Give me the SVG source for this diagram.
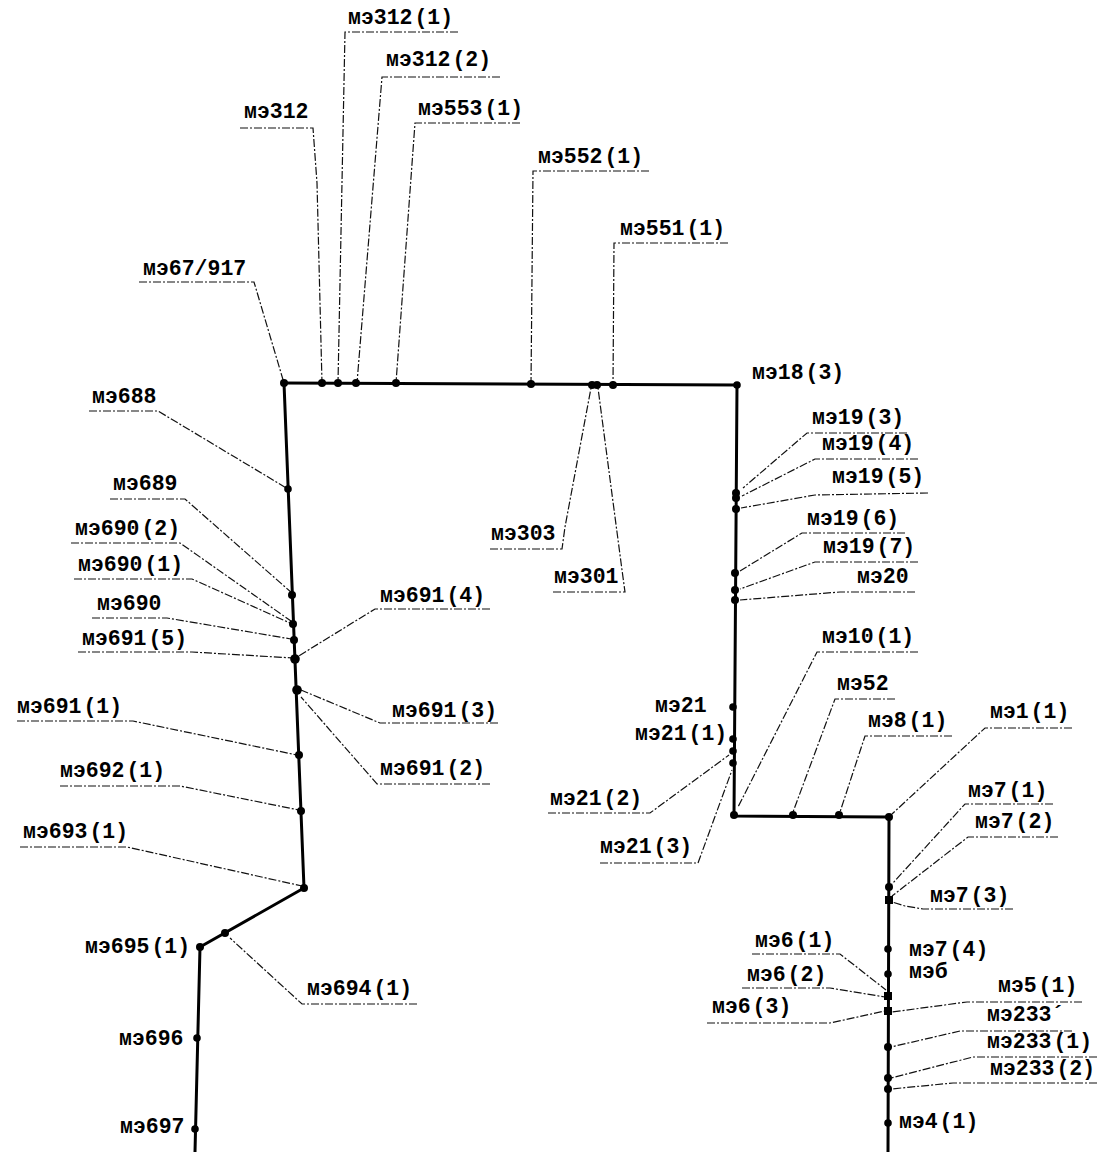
<svg xmlns="http://www.w3.org/2000/svg" width="1097" height="1152" viewBox="0 0 1097 1152">
<style>
text{font-family:"Liberation Mono","DejaVu Sans Mono",monospace;font-weight:bold;font-size:21.5px;fill:#000;word-spacing:-11px}
.main{fill:none;stroke:#000;stroke-width:3;stroke-linejoin:round}
.lead{fill:none;stroke:#111;stroke-width:1.2;stroke-dasharray:8 2 2 2}
.d{fill:#000}
</style>
<rect width="1097" height="1152" fill="#fff"/>
<g id="connectors">
<polyline class="main" points="284,383 737,385 734,816 889,817 888,1152"/>
<polyline class="main" points="284,383 304,888 200,947 195,1152"/>
<polyline class="lead" points="139,282 254,282 284,383"/>
<polyline class="lead" points="240,128 313,128 317,183 322,383"/>
<polyline class="lead" points="458,32 345,32 338,383"/>
<polyline class="lead" points="500,77 382,77 357,383"/>
<polyline class="lead" points="520,123 415,123 396,383"/>
<polyline class="lead" points="649,171 533,171 531,384"/>
<polyline class="lead" points="490,549 562,549 565,527 591,388"/>
<polyline class="lead" points="553,592 625,592 622,570 598,388"/>
<polyline class="lead" points="728,243 614,243 613,385"/>
<polyline class="lead" points="907,433 807,433 743,488"/>
<polyline class="lead" points="918,459 815,459 742,496"/>
<polyline class="lead" points="928,493 815,495 741,508"/>
<polyline class="lead" points="905,533 802,533 740,571"/>
<polyline class="lead" points="918,562 815,562 740,589"/>
<polyline class="lead" points="915,592 840,592 790,596 740,600"/>
<polyline class="lead" points="548,813 650,813 729,755"/>
<polyline class="lead" points="600,863 698,863 732,770"/>
<polyline class="lead" points="918,652 817,652 738,807"/>
<polyline class="lead" points="895,699 835,699 793,812"/>
<polyline class="lead" points="952,736 865,736 840,812"/>
<polyline class="lead" points="1072,728 985,728 892,814"/>
<polyline class="lead" points="1053,804 965,804 892,884"/>
<polyline class="lead" points="1058,837 968,837 892,896"/>
<polyline class="lead" points="1013,909 923,909 905,906 892,902"/>
<polyline class="lead" points="752,954 840,954 886,990"/>
<polyline class="lead" points="742,988 830,988 885,997"/>
<polyline class="lead" points="707,1023 830,1023 885,1011"/>
<polyline class="lead" points="1082,1002 967,1002 892,1012"/>
<polyline class="lead" points="1072,1031 960,1031 891,1047"/>
<polyline class="lead" points="1097,1057 973,1057 891,1078"/>
<polyline class="lead" points="1097,1083 953,1083 891,1089"/>
<polyline class="lead" points="89,411 158,411 288,489"/>
<polyline class="lead" points="110,499 185,499 292,593"/>
<polyline class="lead" points="71,543 180,543 291,621"/>
<polyline class="lead" points="74,579 192,579 290,623"/>
<polyline class="lead" points="92,618 167,618 291,639"/>
<polyline class="lead" points="78,652 192,652 293,658"/>
<polyline class="lead" points="490,609 375,609 297,657"/>
<polyline class="lead" points="498,723 380,723 301,690"/>
<polyline class="lead" points="490,784 377,784 301,697"/>
<polyline class="lead" points="17,721 133,721 297,755"/>
<polyline class="lead" points="60,786 180,786 299,810"/>
<polyline class="lead" points="20,847 127,847 302,886"/>
<polyline class="lead" points="417,1004 302,1004 230,938"/>
</g>
<g id="n67_917"><circle class="d" cx="284" cy="383" r="4"/><text x="143" y="275">мэ67/917</text></g>
<g id="n312"><circle class="d" cx="322" cy="383" r="4"/><text x="244" y="118">мэ312</text></g>
<g id="n312_1"><circle class="d" cx="338" cy="383" r="4"/><text x="348" y="24">мэ312 (1)</text></g>
<g id="n312_2"><circle class="d" cx="356" cy="383" r="4"/><text x="386" y="66">мэ312 (2)</text></g>
<g id="n553_1"><circle class="d" cx="396" cy="383" r="4"/><text x="418" y="115">мэ553 (1)</text></g>
<g id="n552_1"><circle class="d" cx="531" cy="384" r="4"/><text x="538" y="163">мэ552 (1)</text></g>
<g id="n303"><circle class="d" cx="592" cy="385" r="4"/><text x="491" y="540">мэ303</text></g>
<g id="n301"><circle class="d" cx="597" cy="385" r="4"/><text x="554" y="583">мэ301</text></g>
<g id="n551_1"><circle class="d" cx="613" cy="385" r="4"/><text x="620" y="235">мэ551 (1)</text></g>
<g id="n18_3"><circle class="d" cx="737" cy="385" r="3.8"/><text x="752" y="379">мэ18 (3)</text></g>
<g id="n19_3"><circle class="d" cx="736" cy="493" r="4"/><text x="812" y="424">мэ19 (3)</text></g>
<g id="n19_4"><circle class="d" cx="736" cy="498" r="4"/><text x="822" y="450">мэ19 (4)</text></g>
<g id="n19_5"><circle class="d" cx="736" cy="509" r="4"/><text x="832" y="483">мэ19 (5)</text></g>
<g id="n19_6"><circle class="d" cx="735" cy="573" r="4"/><text x="807" y="525">мэ19 (6)</text></g>
<g id="n19_7"><circle class="d" cx="735" cy="590" r="4"/><text x="823" y="553">мэ19 (7)</text></g>
<g id="n20"><circle class="d" cx="735" cy="600" r="4"/><text x="857" y="583">мэ20</text></g>
<g id="n21"><circle class="d" cx="733" cy="707" r="3.8"/><text x="655" y="712">мэ21</text></g>
<g id="n21_1"><circle class="d" cx="733" cy="739" r="3.8"/><text x="635" y="740">мэ21 (1)</text></g>
<g id="n21_2"><circle class="d" cx="733" cy="751" r="3.8"/><text x="550" y="805">мэ21 (2)</text></g>
<g id="n21_3"><circle class="d" cx="733" cy="763" r="3.8"/><text x="600" y="853">мэ21 (3)</text></g>
<g id="n10_1"><circle class="d" cx="734" cy="815" r="4"/><text x="822" y="643">мэ10 (1)</text></g>
<g id="n52"><circle class="d" cx="793" cy="815" r="4"/><text x="837" y="690">мэ52</text></g>
<g id="n8_1"><circle class="d" cx="839" cy="815" r="4"/><text x="868" y="727">мэ8 (1)</text></g>
<g id="n1_1"><circle class="d" cx="889" cy="817" r="4"/><text x="990" y="718">мэ1 (1)</text></g>
<g id="n7_1"><circle class="d" cx="889" cy="887" r="4"/><text x="968" y="797">мэ7 (1)</text></g>
<g id="n7_2"><rect class="d" x="885" y="896" width="8" height="8"/><text x="975" y="828">мэ7 (2)</text></g>
<g id="n7_3"><text x="930" y="902">мэ7 (3)</text></g>
<g id="n7_4"><circle class="d" cx="888" cy="949" r="3.8"/><text x="909" y="956">мэ7 (4)</text></g>
<g id="n6b"><circle class="d" cx="888" cy="974" r="3.8"/><text x="909" y="978">мэб</text></g>
<g id="n6_1"><rect class="d" x="884" y="992" width="8" height="8"/><text x="755" y="947">мэ6 (1)</text></g>
<g id="n6_2"><text x="747" y="981">мэ6 (2)</text></g>
<g id="n6_3"><rect class="d" x="884" y="1007" width="8" height="8"/><text x="712" y="1013">мэ6 (3)</text></g>
<g id="n5_1"><text x="998" y="992">мэ5 (1)</text></g>
<g id="n233p"><circle class="d" cx="888" cy="1047" r="4"/><text x="987" y="1021">мэ233´</text></g>
<g id="n233_1"><circle class="d" cx="888" cy="1078" r="4"/><text x="987" y="1048">мэ233 (1)</text></g>
<g id="n233_2"><circle class="d" cx="888" cy="1089" r="4"/><text x="990" y="1075">мэ233 (2)</text></g>
<g id="n4_1"><circle class="d" cx="888" cy="1123" r="3.8"/><text x="899" y="1128">мэ4 (1)</text></g>
<g id="n688"><circle class="d" cx="288" cy="489" r="3.8"/><text x="92" y="403">мэ688</text></g>
<g id="n689"><circle class="d" cx="292" cy="595" r="4"/><text x="113" y="490">мэ689</text></g>
<g id="n690_2"><circle class="d" cx="293" cy="624" r="4"/><text x="75" y="535">мэ690 (2)</text></g>
<g id="n690_1"><text x="78" y="571">мэ690 (1)</text></g>
<g id="n690"><circle class="d" cx="294" cy="640" r="4"/><text x="97" y="610">мэ690</text></g>
<g id="n691_5"><circle class="d" cx="295" cy="659" r="4.8"/><text x="82" y="645">мэ691 (5)</text></g>
<g id="n691_4"><text x="380" y="602">мэ691 (4)</text></g>
<g id="n691_3"><circle class="d" cx="297" cy="690" r="4.8"/><text x="392" y="717">мэ691 (3)</text></g>
<g id="n691_2"><text x="380" y="775">мэ691 (2)</text></g>
<g id="n691_1"><circle class="d" cx="299" cy="755" r="4"/><text x="17" y="713">мэ691 (1)</text></g>
<g id="n692_1"><circle class="d" cx="301" cy="811" r="4"/><text x="60" y="777">мэ692 (1)</text></g>
<g id="n693_1"><circle class="d" cx="304" cy="888" r="4"/><text x="23" y="838">мэ693 (1)</text></g>
<g id="n695_1"><circle class="d" cx="200" cy="947" r="4"/><text x="85" y="953">мэ695 (1)</text></g>
<g id="n694_1"><circle class="d" cx="225" cy="933" r="4"/><text x="307" y="995">мэ694 (1)</text></g>
<g id="n696"><circle class="d" cx="197" cy="1038" r="3.8"/><text x="119" y="1045">мэ696</text></g>
<g id="n697"><circle class="d" cx="195" cy="1129" r="3.8"/><text x="120" y="1133">мэ697</text></g>
</svg>
